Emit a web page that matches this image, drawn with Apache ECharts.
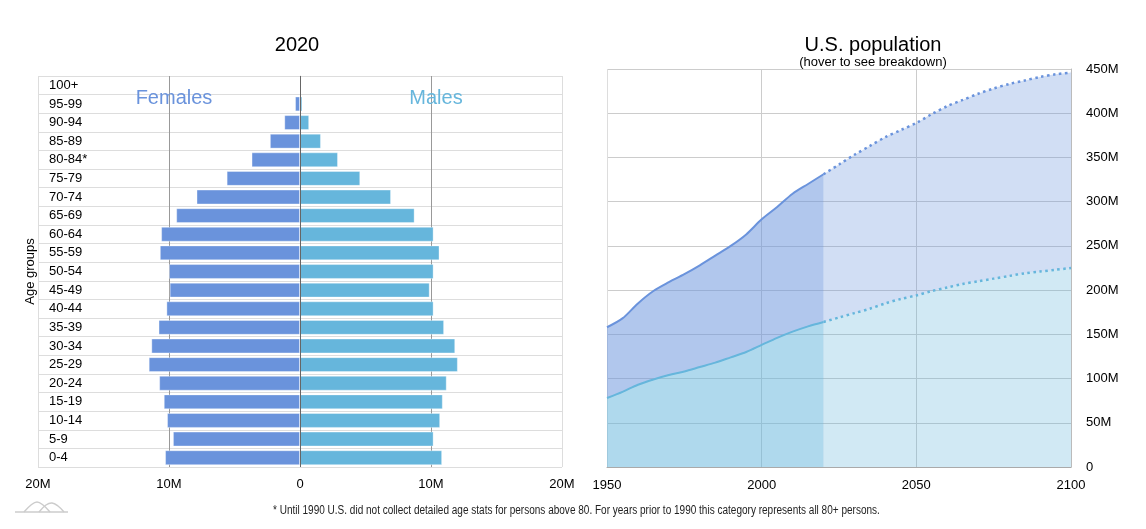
<!DOCTYPE html>
<html>
<head>
<meta charset="utf-8">
<script src="https://cdn.jsdelivr.net/npm/echarts@6/dist/echarts.min.js"></script>
<style>
html,body{margin:0;padding:0;background:#fff;}
#main{width:1146px;height:529px;}
</style>
</head>
<body>
<div id="main"></div>
<script>
// ---- Pyramid (2020), millions ----
const ageGroups = ['0-4','5-9','10-14','15-19','20-24','25-29','30-34','35-39','40-44','45-49','50-54','55-59','60-64','65-69','70-74','75-79','80-84*','85-89','90-94','95-99','100+'];
const females2020 = [10.3, 9.7, 10.15, 10.4, 10.75, 11.55, 11.35, 10.8, 10.2, 9.95, 10.0, 10.7, 10.6, 9.45, 7.9, 5.6, 3.7, 2.3, 1.2, 0.38, 0.06];
const males2020   = [10.85, 10.2, 10.7, 10.9, 11.2, 12.05, 11.85, 11.0, 10.2, 9.9, 10.2, 10.65, 10.2, 8.75, 6.95, 4.6, 2.9, 1.6, 0.7, 0.18, 0.02];

// ---- U.S. population (millions) ----
const years = ['1950','1955','1960','1965','1970','1975','1980','1985','1990','1995','2000','2005','2010','2015','2020','2025','2030','2035','2040','2045','2050','2055','2060','2065','2070','2075','2080','2085','2090','2095','2100'];
const malesPop   = [78, 85, 93, 99, 104, 108, 113, 118, 124, 130, 138, 146, 153, 159, 164, 169, 174, 179, 185, 190, 194, 199, 203, 207, 210, 213, 216, 219, 221, 223, 225];
const femalesPop = [80, 83, 92, 100, 105, 110, 115, 121, 126, 133, 142, 148, 156, 161, 167, 173, 179, 184, 188, 191, 195, 200, 205, 208, 212, 215, 217, 218, 220, 221, 221];
const lastActualYear = '2020';
const footnote = '* Until 1990 U.S. did not collect detailed age stats for persons above 80. For years prior to 1990 this category represents all 80+ persons.';

const FEM = '#6a93dc', MAL = '#66b6dc';
const FONT = 'Liberation Sans, Arial, sans-serif';
const splitIdx = years.indexOf(lastActualYear);

function part(vals, actual){
  return vals.map((v,i) => (actual ? i <= splitIdx : i >= splitIdx) ? v : '-');
}

const chart = echarts.init(document.getElementById('main'), null, {renderer:'canvas'});
const option = {
  animation: false,
  textStyle: {fontFamily: FONT},
  title: [
    {text: '2020', left: 292, top: 30, textAlign: 'center',
     textStyle: {fontSize: 20, fontWeight: 'normal', color: '#000', fontFamily: FONT}},
    {text: 'U.S. population', subtext: '(hover to see breakdown)', left: 868, top: 30, textAlign: 'center', itemGap: 1,
     textStyle: {fontSize: 20, fontWeight: 'normal', color: '#000', fontFamily: FONT},
     subtextStyle: {fontSize: 13, color: '#000', fontFamily: FONT}},
    {text: 'Females', left: 169, top: 83, textAlign: 'center',
     textStyle: {fontSize: 20, fontWeight: 'normal', color: FEM, fontFamily: FONT}},
    {text: 'Males', left: 431, top: 83, textAlign: 'center',
     textStyle: {fontSize: 20, fontWeight: 'normal', color: MAL, fontFamily: FONT}}
  ],
  grid: [
    {left: 38, top: 76, width: 524, height: 391, containLabel: false},
    {left: 607, top: 69, width: 464, height: 398, containLabel: false}
  ],
  xAxis: [
    {gridIndex: 0, type: 'value', min: -20, max: 20, interval: 10,
     axisLine: {show: false}, axisTick: {show: false},
     axisLabel: {color: '#000', fontSize: 13, margin: 11, formatter: v => v === 0 ? '0' : Math.abs(v) + 'M'},
     splitLine: {show: true, lineStyle: {color: ['#ddd', '#999', '#ddd', '#999', '#ddd'], width: 1}}},
    {gridIndex: 1, type: 'category', data: years, boundaryGap: false,
     axisLine: {show: true, lineStyle: {color: '#aaa', width: 1}}, axisTick: {show: false},
     axisLabel: {color: '#000', fontSize: 13, margin: 12, interval: 9},
     splitLine: {show: true, interval: 9, lineStyle: {color: ['#ddd', '#ccc', '#ccc', '#bbb'], width: 1}}}
  ],
  yAxis: [
    {gridIndex: 0, type: 'category', data: ageGroups, position: 'left',
     name: 'Age groups', nameLocation: 'middle', nameGap: 1, nameRotate: 90,
     nameTextStyle: {fontSize: 13, color: '#000', fontFamily: FONT},
     axisLine: {show: true, lineStyle: {color: '#ddd'}}, axisTick: {show: false},
     axisLabel: {inside: true, margin: 11, color: '#000', fontSize: 13, align: 'left'},
     splitLine: {show: true, interval: 0, lineStyle: {color: '#ddd'}},
     boundaryGap: true},
    {gridIndex: 1, type: 'value', min: 0, max: 450, interval: 50, position: 'right',
     axisLine: {show: true, lineStyle: {color: '#bbb'}}, axisTick: {show: false},
     axisLabel: {color: '#000', fontSize: 13, margin: 15, align: 'left', formatter: v => v === 0 ? '0' : v + 'M'},
     splitLine: {show: true, lineStyle: {color: '#ccc'}}}
  ],
  graphic: [
    {type: 'text', x: 273, y: 505, scaleX: 0.835,
     style: {text: footnote, font: '12px "Liberation Sans", Arial, sans-serif', fill: '#222'}},
    {type: 'polyline', shape: {points: [[15,512],[68,512]]}, style: {stroke: '#ccc', lineWidth: 1.5, fill: null}},
    {type: 'polyline', shape: {smooth: 0.4, points: [[24,512],[31,505],[37,502],[43,505],[50,512]]}, style: {stroke: '#ccc', lineWidth: 1.5, fill: null}},
    {type: 'polyline', shape: {smooth: 0.4, points: [[39,512],[46,505],[52,503],[58,506],[64,512]]}, style: {stroke: '#ccc', lineWidth: 1.5, fill: null}}
  ],
  series: [
    {type: 'bar', name: 'Females', xAxisIndex: 0, yAxisIndex: 0, stack: 'pyr',
     data: females2020.map(v => -v), barCategoryGap: '20%',
     itemStyle: {color: FEM, borderColor: 'rgba(255,255,255,0.35)', borderWidth: 1},
     markLine: {silent: true, symbol: 'none', label: {show: false},
       lineStyle: {color: '#666', type: 'solid', width: 1}, data: [{xAxis: 0}]}},
    {type: 'bar', name: 'Males', xAxisIndex: 0, yAxisIndex: 0, stack: 'pyr',
     data: males2020, barCategoryGap: '20%',
     itemStyle: {color: MAL, borderColor: 'rgba(255,255,255,0.35)', borderWidth: 1}},

    {type: 'line', name: 'Males', xAxisIndex: 1, yAxisIndex: 1, stack: 'hist',
     data: part(malesPop, true), smooth: 0.3, showSymbol: false,
     lineStyle: {color: MAL, width: 2}, itemStyle: {color: MAL},
     areaStyle: {color: MAL, opacity: 0.52}},
    {type: 'line', name: 'Females', xAxisIndex: 1, yAxisIndex: 1, stack: 'hist',
     data: part(femalesPop, true), smooth: 0.3, showSymbol: false,
     lineStyle: {color: FEM, width: 2}, itemStyle: {color: FEM},
     areaStyle: {color: FEM, opacity: 0.52}},
    {type: 'line', name: 'Males (projected)', xAxisIndex: 1, yAxisIndex: 1, stack: 'proj',
     data: part(malesPop, false), smooth: 0.3, showSymbol: false,
     lineStyle: {color: MAL, width: 2.5, type: [2.5, 3.5]}, itemStyle: {color: MAL},
     areaStyle: {color: MAL, opacity: 0.3}},
    {type: 'line', name: 'Females (projected)', xAxisIndex: 1, yAxisIndex: 1, stack: 'proj',
     data: part(femalesPop, false), smooth: 0.3, showSymbol: false,
     lineStyle: {color: FEM, width: 2.5, type: [2.5, 3.5]}, itemStyle: {color: FEM},
     areaStyle: {color: FEM, opacity: 0.31}}
  ]
};
chart.setOption(option);
</script>
</body>
</html>
